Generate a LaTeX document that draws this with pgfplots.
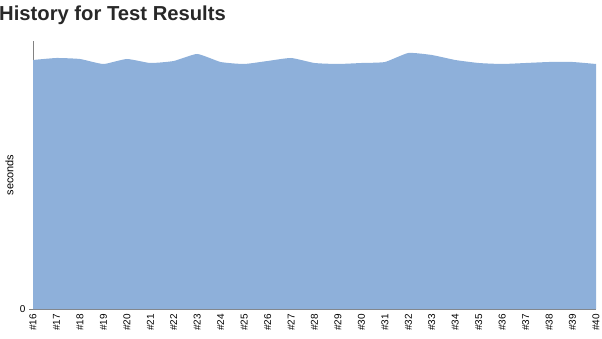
\documentclass[border=0pt]{standalone}
\usepackage{pgfplots}
\pgfplotsset{compat=1.18}
\usepackage{fontspec}
\setmainfont{Liberation Sans}
\definecolor{areablue}{RGB}{142,176,218}
\definecolor{axisgray}{RGB}{130,130,130}
\definecolor{titlecol}{RGB}{40,40,40}
\begin{document}
\begin{tikzpicture}[x=1bp,y=1bp]
\useasboundingbox (0,0) rectangle (602,338);
\node[anchor=west,inner sep=0pt,text=titlecol] at (-1,323) {\fontsize{20.3}{23}\selectfont\bfseries History for Test Results};
\begin{axis}[
  at={(33bp,29bp)}, anchor=south west,
  width=563bp, height=268bp, scale only axis,
  xmin=16, xmax=40, ymin=0, ymax=268,
  axis lines*=left,
  axis line style={axisgray, line width=0.8pt},
  xtick={16,...,40},
  xticklabels={\#16,\#17,\#18,\#19,\#20,\#21,\#22,\#23,\#24,\#25,\#26,\#27,\#28,\#29,\#30,\#31,\#32,\#33,\#34,\#35,\#36,\#37,\#38,\#39,\#40},
  xticklabel style={rotate=90, anchor=east, font=\fontsize{10}{11}\selectfont, inner sep=1pt},
  x tick style={draw=none},
  ytick={0},
  yticklabel style={font=\fontsize{10}{11}\selectfont},
  y tick style={axisgray},
  tick align=outside,
  major tick length=4bp,
  ylabel={seconds},
  ylabel style={font=\fontsize{11}{12}\selectfont, at={(axis description cs:0,0.5)}, anchor=south, yshift=16bp},
  /pgf/number format/assume math mode=true,
  clip=false,
]
\addplot[fill=areablue, draw=none, smooth, tension=0.3] coordinates {
(16,249) (17,251) (18,250) (19,245) (20,250) (21,246) (22,248) (23,255) (24,247) (25,245)
(26,248) (27,251) (28,246) (29,245) (30,246) (31,247) (32,256) (33,254) (34,249) (35,246)
(36,245) (37,246) (38,247) (39,247) (40,245)
} \closedcycle;
\end{axis}
\end{tikzpicture}
\end{document}
